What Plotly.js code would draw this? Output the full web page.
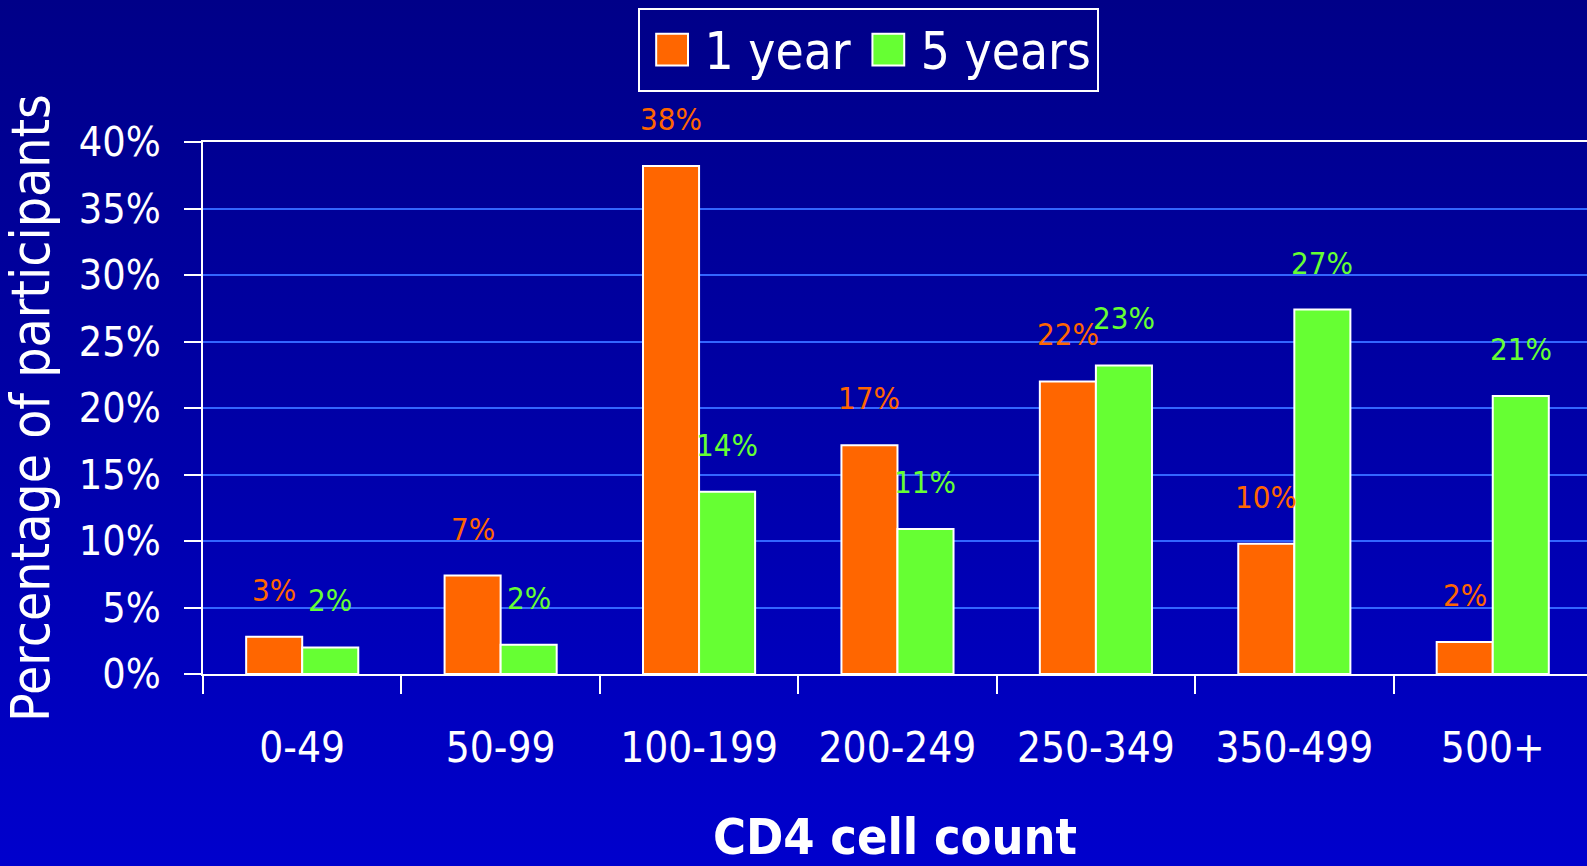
<!DOCTYPE html>
<html>
<head>
<meta charset="utf-8">
<script src="https://cdn.plot.ly/plotly-3.0.1.min.js"></script>
<style>
  html, body { margin: 0; padding: 0; }
  #chart { width: 1587px; height: 866px; background: linear-gradient(to bottom, #000088 0%, #0000a8 50%, #0000cd 100%); }
</style>
</head>
<body>
<div id="chart"></div>
<script>
const categories = ['0-49', '50-99', '100-199', '200-249', '250-349', '350-499', '500+'];
const seriesNames = ['1 year', '5 years'];
const oneYear = [2.8, 7.4, 38.2, 17.2, 22.0, 9.8, 2.4];
const fiveYears = [2.0, 2.2, 13.7, 10.9, 23.2, 27.4, 20.9];
const seriesColors = ['#ff6600', '#66ff33'];
const yTitle = 'Percentage of participants';
const xTitle = 'CD4 cell count';

const FONT = '"DejaVu Sans Condensed", "DejaVu Sans", sans-serif';

const traces = [oneYear, fiveYears].map((vals, i) => ({
  type: 'bar',
  name: seriesNames[i],
  x: categories,
  y: vals,
  marker: { color: seriesColors[i], line: { color: '#ffffff', width: 2 } },
  hoverinfo: 'skip'
}));

const annotations = [];
[oneYear, fiveYears].forEach((vals, i) => {
  vals.forEach((v, j) => {
    annotations.push({
      xref: 'x', yref: 'y',
      x: categories[j], y: v,
      text: Math.round(v) + '%',
      showarrow: false,
      xshift: i === 0 ? -28 : 28,
      yshift: 47,
      yanchor: 'middle',
      font: { family: FONT, size: 31, color: seriesColors[i] }
    });
  });
});

const layout = {
  width: 1587,
  height: 866,
  paper_bgcolor: 'rgba(0,0,0,0)',
  plot_bgcolor: 'rgba(0,0,0,0)',
  margin: { l: 203, r: 0, t: 142, b: 192, autoexpand: false },
  font: { family: FONT, color: '#ffffff' },
  barmode: 'group',
  bargap: 0.435,
  bargroupgap: 0,
  showlegend: true,
  legend: {
    orientation: 'h',
    x: 0.314, xanchor: 'left',
    y: 1.252, yanchor: 'top',
    bgcolor: 'rgba(0,0,0,0)',
    bordercolor: '#ffffff',
    borderwidth: 2,
    itemwidth: 55,
    font: { family: FONT, size: 51, color: '#ffffff' }
  },
  xaxis: {
    type: 'category',
    range: [-0.5, 6.475],
    tickson: 'boundaries',
    ticks: 'outside',
    ticklen: 18,
    tickwidth: 2,
    tickcolor: '#ffffff',
    ticklabelstandoff: 36,
    showline: true,
    linecolor: '#ffffff',
    linewidth: 2,
    mirror: true,
    showgrid: false,
    tickfont: { family: FONT, size: 42, color: '#ffffff' },
    title: { text: xTitle, standoff: 54, font: { family: FONT, size: 50, color: '#ffffff', weight: 'bold' } },
    automargin: false,
    fixedrange: true
  },
  yaxis: {
    range: [0, 40],
    dtick: 5,
    ticksuffix: '%',
    ticks: 'outside',
    ticklen: 17,
    tickwidth: 2,
    tickcolor: '#ffffff',
    ticklabelstandoff: 15,
    showline: true,
    linecolor: '#ffffff',
    linewidth: 2,
    showgrid: true,
    gridcolor: '#3366ff',
    gridwidth: 2,
    zeroline: false,
    tickfont: { family: FONT, size: 41, color: '#ffffff' },
    title: { text: yTitle, standoff: 18, font: { family: FONT, size: 53, color: '#ffffff' } },
    automargin: false,
    fixedrange: true
  },
  annotations: annotations
};

Plotly.newPlot('chart', traces, layout, { displayModeBar: false, staticPlot: true }).then(gd => {
  gd.querySelectorAll('.legend .legendpoints path').forEach(p => {
    const cur = p.getAttribute('transform') || '';
    p.setAttribute('transform', cur + ' scale(2.65)');
    p.style.vectorEffect = 'non-scaling-stroke';
    p.style.strokeWidth = '2px';
    p.style.stroke = '#ffffff';
  });
});
</script>
</body>
</html>
